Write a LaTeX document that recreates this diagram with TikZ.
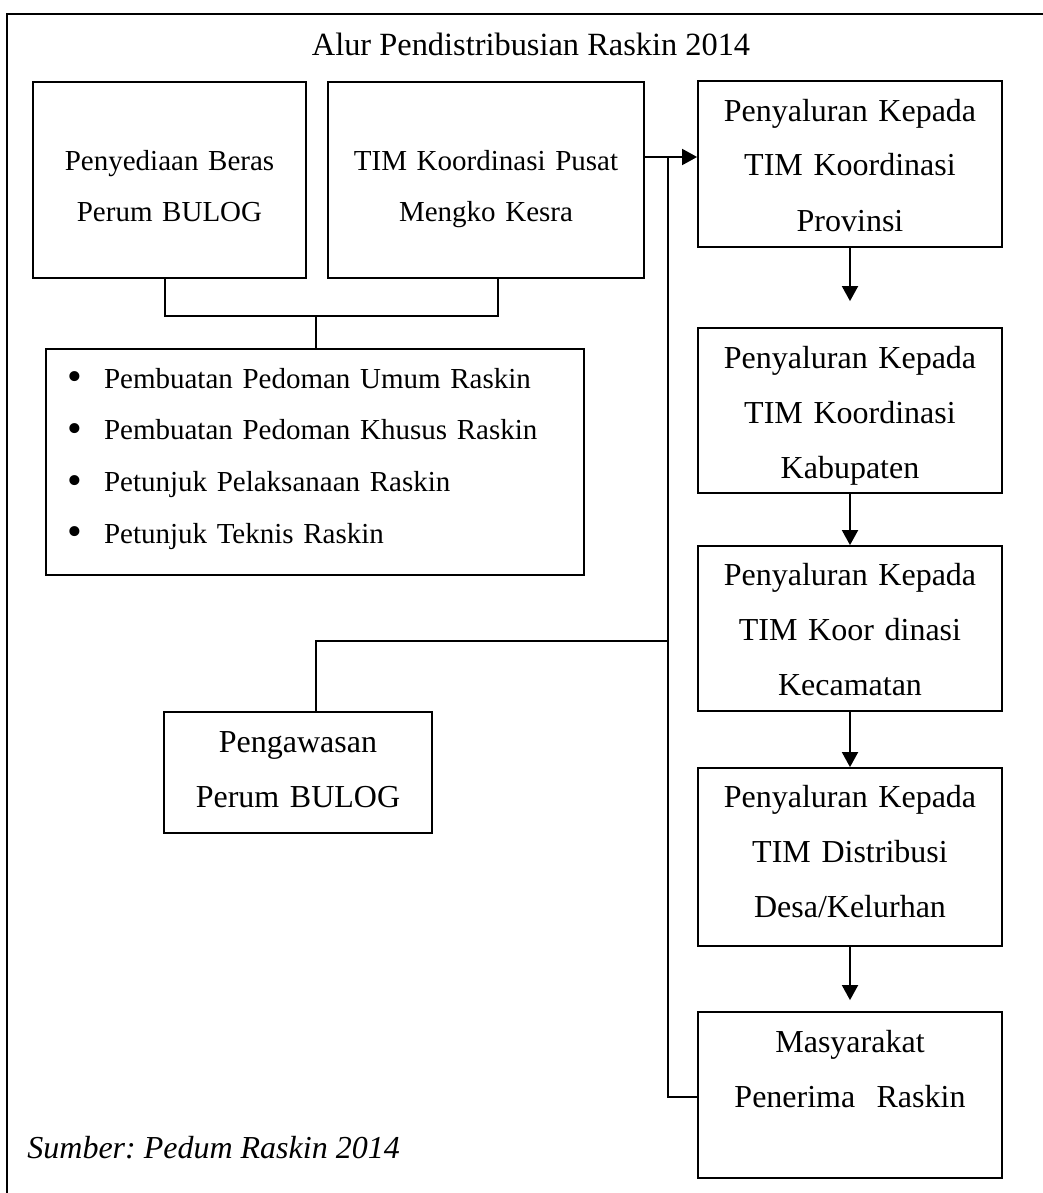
\documentclass[tikz,border=0pt]{standalone}
\usepackage{fontspec}
\setmainfont{Liberation Serif}
\usetikzlibrary{arrows.meta}
\frenchspacing
\newcommand{\bigbul}{\hspace*{11pt}\makebox[18pt][l]{\raisebox{-0.09em}{\scalebox{1.45}{\textbullet}}}}
\begin{document}
\begin{tikzpicture}[x=0.5pt,y=-0.5pt,
  box/.style={draw, rectangle, line width=0.9pt, inner sep=0pt, align=center},
  rbox/.style={box, minimum width=152pt, text width=152pt,
    font=\fontsize{16pt}{27.5pt}\selectfont, text height=20pt},
  lbox/.style={box, font=\fontsize{14.5pt}{25.5pt}\selectfont,
    minimum height=98pt, text height=44pt, text depth=54pt},
  conn/.style={line width=0.9pt},
  arr/.style={conn, -{Triangle[length=7.5pt,width=8pt]}},
]
\useasboundingbox (0,0) rectangle (1043,1193);

% frame (open at right and bottom)
\draw[line width=0.7pt] (1043,14) -- (7,14) -- (7,1193);

% title and source
\node[anchor=base, inner sep=0pt, font=\fontsize{16.2pt}{19pt}\selectfont] (T) at (531,56) {Alur Pendistribusian Raskin 2014};
\node[anchor=base west, inner sep=0pt, font=\fontsize{16pt}{19pt}\selectfont\itshape] (S) at (27,1158) {Sumber: Pedum Raskin 2014};

% left top boxes
\node[lbox, minimum width=136.5pt, text width=136.5pt] (A) at (169.5,180) {Penyediaan Beras\\Perum BULOG};
\node[lbox, minimum width=158pt, text width=158pt] (B) at (486,180) {TIM Koordinasi Pusat\\Mengko Kesra};

% list box
\node[box, align=left, minimum width=269pt, text width=269pt, minimum height=113pt,
  text height=19.5pt, text depth=93.5pt, font=\fontsize{14.5pt}{25.85pt}\selectfont] (L) at (315,462)
  {\bigbul Pembuatan Pedoman Umum Raskin\\
   \bigbul Pembuatan Pedoman Khusus Raskin\\
   \bigbul Petunjuk Pelaksanaan Raskin\\
   \bigbul Petunjuk Teknis Raskin};

% supervision box
\node[box, minimum width=134pt, text width=134pt, minimum height=60.5pt,
  text height=20pt, text depth=40.5pt, font=\fontsize{16pt}{27.5pt}\selectfont] (G) at (298,772.5)
  {Pengawasan\\Perum BULOG};

% right column
\node[rbox, minimum height=83pt, text depth=63pt] (P1) at (850,164) {Penyaluran Kepada\\TIM Koordinasi\\Provinsi};
\node[rbox, minimum height=82.5pt, text depth=62.5pt] (P2) at (850,410.5) {Penyaluran Kepada\\TIM Koordinasi\\Kabupaten};
\node[rbox, minimum height=82.5pt, text height=19.5pt, text depth=63pt] (P3) at (850,628.5) {Penyaluran Kepada\\TIM Koor dinasi\\Kecamatan};
\node[rbox, minimum height=89pt, text height=19.5pt, text depth=69.5pt] (P4) at (850,857) {Penyaluran Kepada\\TIM Distribusi\\Desa/Kelurhan};
\node[rbox, minimum height=83pt, text depth=63pt] (P5) at (850,1095) {Masyarakat\\Penerima\ \ Raskin};

% connectors
\coordinate (ja) at (165,316);
\coordinate (jb) at (498,316);
\coordinate (jm) at (316,316);
\draw[conn] (A.south -| ja) -- (ja) -- (jb) -- (B.south -| jb);
\draw[conn] (jm) -- (L.north -| jm);

\coordinate (tt) at (668,157);
\coordinate (tg) at (668,641);
\coordinate (tb) at (668,1097);
\coordinate (gc) at (316,641);
\draw[arr] (B.east |- tt) -- (P1.west |- tt);
\draw[conn] (tt) -- (tb) -- (P5.west |- tb);
\draw[conn] (tg) -- (gc) -- (G.north -| gc);

\draw[arr, shorten >=13pt] (P1.south) -- (P2.north);
\draw[arr] (P2.south) -- (P3.north);
\draw[arr] (P3.south) -- (P4.north);
\draw[arr, shorten >=5.5pt] (P4.south) -- (P5.north);
\end{tikzpicture}
\end{document}
